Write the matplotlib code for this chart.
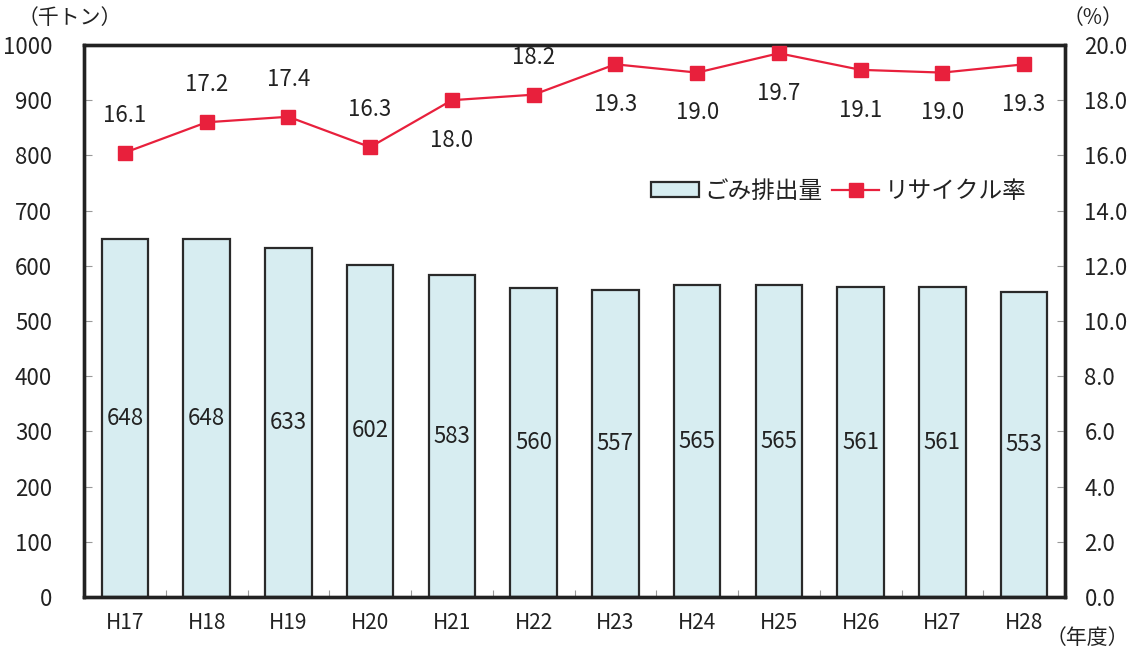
import numpy as np
import matplotlib
matplotlib.use("Agg")
import matplotlib.pyplot as plt
from matplotlib.patches import Patch
from matplotlib.lines import Line2D

plt.rcParams['font.family'] = ['Liberation Sans Narrow', 'Noto Sans CJK JP', 'DejaVu Sans']

# データ
nendo = ['H17', 'H18', 'H19', 'H20', 'H21', 'H22', 'H23', 'H24', 'H25', 'H26', 'H27', 'H28']
gomi = [648, 648, 633, 602, 583, 560, 557, 565, 565, 561, 561, 553]      # 千トン
recycle = [16.1, 17.2, 17.4, 16.3, 18.0, 18.2, 19.3, 19.0, 19.7, 19.1, 19.0, 19.3]  # %
# ラベル位置 (1=上, -1=下)
lbl_pos = [1, 1, 1, 1, -1, 1, -1, -1, -1, -1, -1, -1]

bar_col = '#d7edf1'
line_col = '#e8203c'
tick_col = '#999999'

fig = plt.figure(figsize=(11.34, 6.48), dpi=100)
ax = fig.add_axes([84/1134, 1-597/648, (1065-84)/1134, (597-45)/648])
x = np.arange(len(nendo))

ax.bar(x, gomi, width=0.57, color=bar_col, edgecolor='#2a2a2a', linewidth=1.6, zorder=2)
for xi, v in zip(x, gomi):
    ax.text(xi, v/2, str(v), ha='center', va='center', fontsize=16, color='#222222', zorder=3)

ax.set_xlim(-0.5, len(nendo)-0.5)
ax.set_ylim(0, 1000)
ax.set_yticks(np.arange(0, 1001, 100))
ax.set_xticks(x)
ax.set_xticklabels(nendo)
ax.set_xticks(np.arange(0.5, len(nendo)-1, 1), minor=True)
ax.tick_params(axis='x', which='major', length=0, pad=11, labelsize=15, labelcolor='#222222')
ax.tick_params(axis='x', which='minor', direction='in', length=5, color=tick_col, width=0.8)
ax.tick_params(axis='y', direction='in', length=6, color=tick_col, width=0.8, pad=23,
               labelsize=16, labelcolor='#222222')
for s in ax.spines.values():
    s.set_linewidth(2.4)
    s.set_color('#222222')

ax2 = ax.twinx()
ax2.plot(x, recycle, color=line_col, linewidth=1.6, marker='s', markersize=10, zorder=4)
ax2.set_ylim(0, 20)
ax2.set_yticks(np.arange(0, 20.1, 2))
ax2.set_yticklabels([f'{v:.1f}' for v in np.arange(0, 20.1, 2)])
ax2.tick_params(axis='y', direction='in', length=6, color=tick_col, width=0.8, pad=14,
                labelsize=16, labelcolor='#222222')
for s in ax2.spines.values():
    s.set_linewidth(2.4)
    s.set_color('#222222')
for xi, v, p in zip(x, recycle, lbl_pos):
    off = 27 if p > 0 else -29
    ax2.annotate(f'{v:.1f}', (xi, v), xytext=(0, off), textcoords='offset points',
                 ha='center', va='center', fontsize=16, color='#222222')

# 単位
fig.text(18/1134, 1-18/648, '（千トン）', ha='left', va='center', fontsize=15, color='#222222')
fig.text(1093/1134, 1-18/648, '（%）', ha='center', va='center', fontsize=15, color='#222222')
fig.text(1046/1134, 1-638/648, '（年度）', ha='left', va='center', fontsize=15, color='#222222')

handles = [Patch(facecolor=bar_col, edgecolor='#2a2a2a', linewidth=1.6),
           Line2D([0], [0], color=line_col, linewidth=1.6, marker='s', markersize=10)]
leg = ax2.legend(handles, ['ごみ排出量', 'リサイクル率'], loc='center left',
                 bbox_to_anchor=(558/981, 0.735), borderaxespad=0,
                 ncol=2, frameon=False, fontsize=17, handlelength=2.0, handleheight=0.6,
                 handletextpad=0.25, columnspacing=0.4, labelcolor='#222222')

fig.savefig('out.png', dpi=100)
